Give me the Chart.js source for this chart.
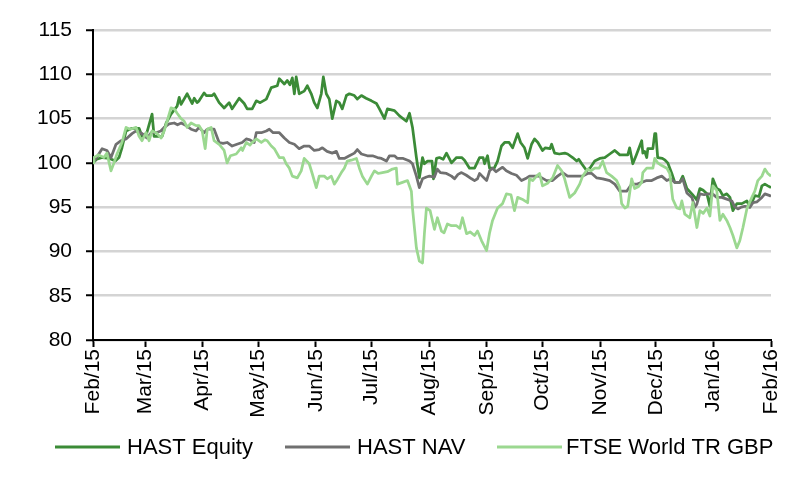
<!DOCTYPE html>
<html><head><meta charset="utf-8">
<script src="https://cdn.jsdelivr.net/npm/chart.js@4.4.1/dist/chart.umd.min.js"></script>
<style>html,body{margin:0;padding:0;background:#fff}canvas{display:block}</style>
</head><body><canvas id="c" width="800" height="484"></canvas>
<script>
const monthLabels = ['Feb/15','Mar/15','Apr/15','May/15','Jun/15','Jul/15','Aug/15','Sep/15','Oct/15','Nov/15','Dec/15','Jan/16','Feb/16'];
const monthDays = [0,28,59,89,120,150,181,212,242,273,303,334,365];
const yMin = 80, yMax = 115, yStep = 5;

const equityDays = [0,2,5,9,12,14,15.6,17.8,21,24.8,26.4,29,31.8,32.9,37.2,39.4,42,45.3,46.4,47.4,50.7,53.4,54.5,56,57.1,59.8,61,64.2,65.2,67.9,70.6,73.3,74.9,78.7,81.4,83,85.7,87.9,90,93.3,96,99.2,100.3,103,104.6,106,107.3,108.4,109.4,111,113.7,115.4,117.5,119.1,120.8,122.9,124,125.6,127.2,128.8,131,132.6,134.2,136.4,138,140.7,142.3,144.5,147,149.9,152.6,154.2,156.9,158.5,162.3,165,168.7,170.4,172,174.1,175.7,177.4,178.4,180.1,182.5,183.3,184.9,186.5,188.5,190.3,193,195.7,198.5,200,202.7,205.4,208.1,210,210.8,212.4,213.5,216,217.8,219.9,221.6,224,225.9,228.6,230.2,232.3,234,236.1,237.7,239.5,242,243.5,246,246.9,248.5,251,254,255.5,258.2,260.4,261.5,263.1,265.8,267.5,270.1,272.8,275.5,278.2,280.9,283.6,287.9,288.9,290.6,292.5,295.4,296,297,298.1,298.7,301.4,302.4,303,304,306.5,308,309.4,311.6,313.2,315.9,317.5,319.7,322.4,324,325,326.7,328.5,330.5,332.1,333.7,335.8,337.5,339.1,341.2,342.9,344.5,346.6,349.3,352,353.6,356.3,358.5,360.1,361.7,363.3,365];
const equityValues = [100.0,100.4,100.6,100.5,100.2,100.6,101.7,103.6,103.9,103.9,103.0,103.4,105.5,103.0,103.0,104.5,105.5,106.4,107.4,106.6,107.8,106.7,107.3,106.8,107.0,107.9,107.6,107.6,107.8,106.8,106.2,106.8,106.1,107.3,106.7,106.1,106.1,107.0,106.8,107.2,108.5,108.7,109.5,108.9,109.3,108.8,109.6,107.8,109.7,107.8,108.1,108.7,107.8,106.8,106.2,107.8,109.7,107.8,107.2,105.0,107.0,106.8,106.1,107.6,107.8,107.6,107.2,107.6,107.3,107.0,106.7,106.1,105.0,106.1,105.9,105.3,104.7,105.6,104.0,100.6,98.3,100.6,99.9,100.2,100.2,98.2,100.5,100.6,100.4,101.1,100.0,100.6,100.6,100.3,99.4,99.4,100.6,100.6,99.9,100.8,99.4,99.4,100.2,101.9,102.3,102.3,101.7,103.3,102.3,101.7,100.5,102.1,102.7,102.3,101.4,101.7,101.6,102.1,101.1,101.0,101.1,101.0,100.6,100.2,100.4,99.9,99.1,99.4,100.2,100.5,100.6,101.0,101.4,100.9,100.9,101.7,99.9,100.9,102.5,101.1,101.3,100.6,101.6,101.6,103.3,103.3,100.6,100.5,100.3,100.0,98.8,97.8,97.8,98.5,97.1,96.5,96.1,95.8,97.1,96.9,96.5,95.1,98.2,97.1,96.9,96.3,96.5,96.1,94.6,95.4,95.4,95.7,95.0,96.3,96.2,97.4,97.6,97.4,97.2];

const navDays = [0,1.6,4.9,7.5,9.7,12.4,15.1,17.8,21,23.2,26.4,29,31.3,34,36.5,38.3,41,43.7,45.5,47.5,50.1,52.8,55.5,57.1,59.8,61.5,65.2,67.9,70,72.2,74.9,77.5,80.3,82.5,84.5,86.8,87.9,90.6,93.3,94.9,97,100.3,103,105.7,108.4,111,113.7,116.4,119.1,121.8,123.5,126,128.8,131,132.6,135.3,138,140.7,142.3,144.5,147.7,150.5,153.1,155.3,158,159.6,162.3,163.9,167,170.4,172,174.1,175.7,177.4,179.5,181.1,183.8,185.4,187,190.3,193,194.6,196.5,198.4,201,203.8,205.4,207,208.1,209.5,211.9,213.5,215.1,217,218.9,220.5,222.5,225.3,228,230.7,233.5,235,240,244.2,247.4,250.1,252.8,255.5,260,263.6,266.3,268.5,271.2,274.4,278.2,280.9,283.6,287.3,290,293,295.4,298,300.8,303.5,306.2,308.9,311,313.2,315.9,317.5,319.7,322.4,324,325,326.7,329,331,333.5,335.8,338.5,341.2,343.9,345.6,347.2,349,350.9,353.6,355.3,357.5,360.1,361.7,364.4,365];
const navValues = [100.0,100.5,101.6,101.4,100.6,102.1,102.5,102.7,103.3,103.6,103.3,102.8,103.4,103.4,103.6,104.0,104.4,104.5,104.3,104.5,104.2,103.8,103.6,104.0,103.4,103.8,103.8,102.3,102.2,102.3,101.9,102.1,102.3,102.7,102.6,102.3,103.4,103.4,103.6,103.8,103.4,103.4,102.8,102.3,102.1,101.6,101.9,101.9,101.4,101.5,101.7,101.3,101.1,101.3,100.5,100.5,100.8,101.1,101.5,101.0,100.8,100.8,100.6,100.5,100.2,100.8,100.8,100.5,100.5,100.2,99.9,98.5,97.2,98.2,98.4,98.5,98.4,99.3,98.9,98.8,98.5,98.2,98.7,98.9,98.6,98.2,98.0,98.2,98.8,98.5,98.0,99.1,99.4,99.0,99.3,99.5,99.1,98.8,98.6,98.0,98.3,98.5,98.5,98.0,98.0,98.5,98.9,98.5,98.5,98.5,98.8,98.8,98.3,98.2,98.0,97.6,96.8,96.8,97.6,97.6,97.8,98.0,98.0,98.3,98.5,98.0,98.2,97.8,97.8,98.2,96.6,96.1,95.0,95.3,96.5,96.4,96.5,96.5,96.1,96.1,95.9,95.7,95.0,94.8,95.0,95.1,95.0,95.5,95.6,96.1,96.5,96.3,96.2];

const ftseDays = [0,0.5,3,5.9,7.5,9.7,11.3,12.9,15.6,17.8,20,23.2,24.8,26.4,28.6,30.2,31.8,34,36.7,38.3,39.9,42,43.7,45.3,47.4,49.1,50.7,52.8,55.5,57.1,58.8,60.4,61.5,63.6,65.2,67.9,70.6,72.2,74,77.1,79.8,80.5,82.5,84.5,85.7,87.9,90.6,92.5,93.8,96,97.6,100.3,102.5,104,105.7,107.3,110,112.1,113.7,116.4,118,120.2,121.8,124.5,126.1,128.3,129.9,131.5,133.7,135.3,136.9,139,141.8,143.4,145,147.7,149.9,151.5,153.5,155.8,158.5,161.2,163.3,163.9,166.6,169.3,171.4,172,174.1,175.7,177.4,178.4,179.5,181.5,183.8,185.4,187.6,189,190.8,193,195.7,197.5,198.9,201.1,203,205.4,207,209.2,211.9,213.5,215.1,217.8,220.5,222.6,225,226.9,228.6,231,234,235,236.7,238.8,240.4,242,244.7,247.4,250.1,252.3,253.9,256.6,259.3,262,263.6,266.3,268,270.1,272.5,274.4,276.5,279.2,281.9,283.6,284.6,286.3,287.9,290,291.6,293.5,295.4,296,298.1,301.4,302.4,304,306.2,308.9,310.5,312.1,314.3,316,317,318.6,321.3,322.9,325.1,326.7,328.5,330.5,332.1,333.7,335.8,337.5,339.1,341.2,342.9,344.5,346.6,348.2,349.9,352,354.7,356.3,357.9,360.1,361.7,363.3,365];
const ftseValues = [100.0,100.6,100.9,100.6,101.1,99.1,100.0,101.0,102.3,104.0,103.8,104.0,103.0,102.5,103.4,102.5,103.6,103.4,102.8,103.6,104.7,106.2,106.1,105.6,105.0,104.7,104.0,104.5,104.2,104.2,103.6,101.6,103.8,104.0,102.5,102.1,101.4,100.0,100.8,101.0,101.7,101.4,102.3,102.0,102.3,102.7,102.3,102.6,102.5,101.9,101.6,100.6,100.6,99.9,99.4,98.5,98.3,99.1,100.5,99.9,98.8,97.2,98.5,98.5,98.2,98.5,97.6,98.1,98.9,99.4,100.2,100.3,100.5,99.4,98.5,97.6,98.5,99.1,98.8,98.9,99.0,99.3,99.4,97.6,97.8,98.0,96.8,94.9,90.4,88.9,88.7,92.0,94.9,94.6,92.5,93.8,92.3,92.1,93.1,92.9,92.9,92.6,93.8,92.0,92.2,91.8,92.3,91.2,90.1,92.1,93.5,94.9,95.4,96.5,96.4,94.6,96.1,95.9,95.5,98.2,98.0,98.5,98.8,97.4,97.7,98.3,99.7,99.1,98.2,96.1,96.6,97.6,98.5,99.3,99.1,99.4,99.4,100.2,98.9,98.5,98.0,97.2,95.4,94.9,95.1,98.2,97.1,97.3,97.8,98.9,99.4,99.4,100.5,100.0,99.7,99.4,98.8,95.9,94.9,94.8,95.7,94.2,93.8,95.5,92.7,94.6,94.3,94.9,94.0,97.4,96.9,93.5,94.2,93.5,92.7,91.8,90.4,91.2,92.7,94.8,96.1,96.8,98.0,98.5,99.3,98.8,98.5];

const seriesNames = ['HAST Equity','HAST NAV','FTSE World TR GBP'];
const seriesColors = ['#3b8b37','#707070','#9bd890'];

function pts(d, v){ return d.map((x,i)=>({x:x, y:v[i]})); }

const regular = "'Liberation Sans',Arial,sans-serif";

// legend drawn beneath the axis labels, one row, from the datasets
const legendRow = {
  id: 'legendRow',
  afterDraw(chart) {
    const ctx = chart.ctx;
    const slots = [{line: 55, text: 127}, {line: 285, text: 357}, {line: 497, text: 566}];
    const y = 447;
    ctx.save();
    ctx.font = "22px " + regular;
    ctx.textBaseline = 'middle';
    ctx.textAlign = 'left';
    chart.data.datasets.forEach((ds, i) => {
      const s = slots[i];
      ctx.strokeStyle = ds.borderColor;
      ctx.lineWidth = 3;
      ctx.beginPath();
      ctx.moveTo(s.line, y); ctx.lineTo(s.line + 65, y);
      ctx.stroke();
      ctx.fillStyle = '#000';
      ctx.fillText(ds.label, s.text, y + 1);
    });
    ctx.restore();
  }
};

new Chart(document.getElementById('c'), {
  type: 'line',
  data: {
    datasets: [
      {label: seriesNames[0], data: pts(equityDays, equityValues), borderColor: seriesColors[0], backgroundColor: seriesColors[0], order: 3},
      {label: seriesNames[1], data: pts(navDays, navValues), borderColor: seriesColors[1], backgroundColor: seriesColors[1], order: 2},
      {label: seriesNames[2], data: pts(ftseDays, ftseValues), borderColor: seriesColors[2], backgroundColor: seriesColors[2], order: 1}
    ]
  },
  plugins: [legendRow],
  options: {
    responsive: false,
    animation: false,
    devicePixelRatio: 1,
    layout: {padding: {left: 0, right: 29, top: 30, bottom: 64}},
    elements: {
      line: {borderWidth: 2.75, tension: 0, borderJoinStyle: 'round'},
      point: {radius: 0, hoverRadius: 0}
    },
    scales: {
      x: {
        type: 'linear', min: 0, max: 365,
        afterBuildTicks: s => { s.ticks = monthDays.map(v => ({value: v})); },
        afterFit: s => { s.height = 80; },
        grid: {drawOnChartArea: false, drawTicks: true, tickLength: 7, tickColor: '#000', tickWidth: 2},
        border: {display: true, color: '#000', width: 2},
        ticks: {
          autoSkip: false, minRotation: 90, maxRotation: 90, padding: 2, color: '#000',
          font: {family: regular, size: 21},
          callback: v => { const i = monthDays.indexOf(v); return i >= 0 ? monthLabels[i] : ''; }
        }
      },
      y: {
        min: yMin, max: yMax,
        afterFit: s => { s.width = 93; },
        grid: {color: '#d4d4d4', lineWidth: 2.5, tickLength: 7, tickColor: '#000', tickWidth: 2},
        border: {display: true, color: '#000', width: 2},
        ticks: {stepSize: yStep, padding: 14, color: '#000', font: {family: regular, size: 21}}
      }
    },
    plugins: {
      tooltip: {enabled: false},
      legend: {display: false}
    }
  }
});
</script>
</body></html>
